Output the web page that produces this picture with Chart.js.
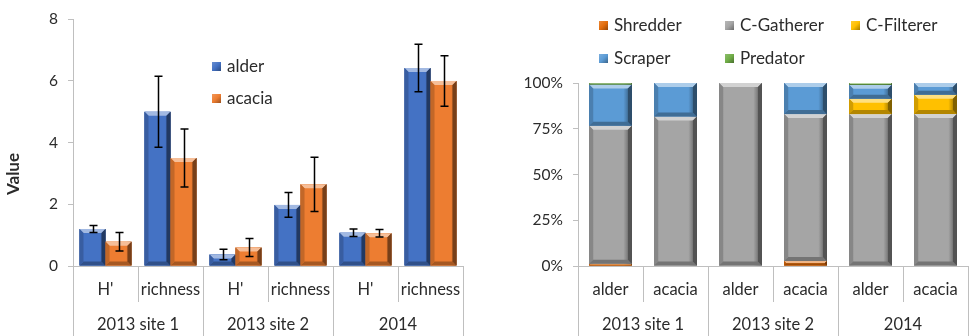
<!DOCTYPE html>
<html>
<head>
<meta charset="utf-8">
<title>Diversity and feeding groups</title>
<script src="https://cdn.jsdelivr.net/npm/chart.js@4.4.0/dist/chart.umd.min.js"></script>
<style>
  body { margin: 0; background: #fff; width: 969px; height: 336px; overflow: hidden; font-family: Lato, sans-serif; }
  .panel { position: absolute; top: 0; height: 336px; }
  #leftPanel { left: 0; width: 480px; }
  #rightPanel { left: 490px; width: 479px; }
  .legend-item { position: absolute; font-size: 17px; color: #2b2b2b; white-space: nowrap; line-height: 18px; }
  .legend-item i { display: inline-block; width: 9px; height: 9px; margin-right: 6px; vertical-align: 1px; }
</style>
</head>
<body>
<div class="panel" id="leftPanel"><canvas id="valueChart" width="480" height="336"></canvas></div>
<div class="panel" id="rightPanel"><canvas id="guildChart" width="479" height="336"></canvas></div>
<script>
// categories
const metrics = ["H'", 'richness', "H'", 'richness', "H'", 'richness'];
const trees = ['alder', 'acacia', 'alder', 'acacia', 'alder', 'acacia'];
const sites = ['2013 site 1', '2013 site 2', '2014'];

// diversity values (mean and error)
const alderMean = [1.2, 5.0, 0.37, 1.98, 1.08, 6.42];
const alderErr = [0.11, 1.15, 0.17, 0.4, 0.12, 0.77];
const acaciaMean = [0.79, 3.5, 0.6, 2.65, 1.06, 6.0];
const acaciaErr = [0.3, 0.94, 0.29, 0.88, 0.12, 0.82];
const valueTicks = [0, 2, 4, 6, 8];

// feeding group composition, percent
const shredder = [1.2, 0, 0, 2.7, 0, 0];
const gatherer = [75.5, 81.7, 100, 80.3, 83, 83.1];
const filterer = [0, 0, 0, 0, 8.4, 10.5];
const scraper = [22.5, 18.3, 0, 17, 7.6, 6.4];
const predator = [0.8, 0, 0, 0, 1, 0];
const percentTicks = [0, 25, 50, 75, 100];

const FONT = 'Lato, sans-serif';
const TEXT = '#2b2b2b';
const AXIS = '#BFBFBF';

function mix(hex, amt) {
    // amt > 0 lightens toward white, amt < 0 darkens toward black
    const n = parseInt(hex.slice(1), 16);
    let r = n >> 16, g = (n >> 8) & 255, b = n & 255;
    const t = amt > 0 ? 255 : 0, p = Math.abs(amt);
    r = Math.round(r + (t - r) * p);
    g = Math.round(g + (t - g) * p);
    b = Math.round(b + (t - b) * p);
    return `rgb(${r},${g},${b})`;
}

// Bevelled look for every bar
const bevel = {
    id: 'bevel',
    afterDatasetsDraw(chart) {
        const ctx = chart.ctx;
        chart.data.datasets.forEach((ds, di) => {
            const meta = chart.getDatasetMeta(di);
            meta.data.forEach(bar => {
                const p = bar.getProps(['x', 'y', 'base', 'width'], true);
                const l = p.x - p.width / 2, r = p.x + p.width / 2;
                const t = Math.min(p.y, p.base), b = Math.max(p.y, p.base);
                const h = b - t;
                if (h < 0.5) return;
                const col = ds.backgroundColor;
                const e = Math.min(4, h / 2, p.width / 6);
                ctx.save();
                // body gradient
                const g = ctx.createLinearGradient(l, 0, r, 0);
                g.addColorStop(0, mix(col, -0.25));
                g.addColorStop(0.12, col);
                g.addColorStop(0.8, col);
                g.addColorStop(1, mix(col, -0.5));
                ctx.fillStyle = g;
                ctx.fillRect(l, t, r - l, h);
                // top bevel
                ctx.fillStyle = mix(col, 0.5);
                ctx.beginPath();
                ctx.moveTo(l, t); ctx.lineTo(r, t); ctx.lineTo(r - e, t + e); ctx.lineTo(l + e, t + e);
                ctx.closePath(); ctx.fill();
                // bottom bevel
                ctx.fillStyle = mix(col, -0.3);
                ctx.beginPath();
                ctx.moveTo(l, b); ctx.lineTo(r, b); ctx.lineTo(r - e, b - e); ctx.lineTo(l + e, b - e);
                ctx.closePath(); ctx.fill();
                // right edge
                ctx.fillStyle = mix(col, -0.5);
                ctx.beginPath();
                ctx.moveTo(r, t); ctx.lineTo(r - e, t + e); ctx.lineTo(r - e, b - e); ctx.lineTo(r, b);
                ctx.closePath(); ctx.fill();
                // left edge
                ctx.fillStyle = mix(col, -0.18);
                ctx.beginPath();
                ctx.moveTo(l, t); ctx.lineTo(l + e, t + e); ctx.lineTo(l + e, b - e); ctx.lineTo(l, b);
                ctx.closePath(); ctx.fill();
                ctx.restore();
            });
        });
    }
};

// Error bars from the errors attached to each dataset
const errorBars = {
    id: 'errorBars',
    afterDatasetsDraw(chart) {
        const ctx = chart.ctx, y = chart.scales.y;
        ctx.save();
        ctx.strokeStyle = '#000';
        ctx.lineWidth = 1.5;
        chart.data.datasets.forEach((ds, di) => {
            if (!ds.errors) return;
            chart.getDatasetMeta(di).data.forEach((bar, i) => {
                const v = ds.data[i], err = ds.errors[i];
                const top = y.getPixelForValue(v + err), bot = y.getPixelForValue(v - err);
                const x = Math.round(bar.x) + 0.5;
                ctx.beginPath();
                ctx.moveTo(x, top); ctx.lineTo(x, bot);
                ctx.moveTo(x - 4, top); ctx.lineTo(x + 4, top);
                ctx.moveTo(x - 4, bot); ctx.lineTo(x + 4, bot);
                ctx.stroke();
            });
        });
        ctx.restore();
    }
};

// Two-row category axis (item row + site row) with separators
const categoryAxis = {
    id: 'categoryAxis',
    afterDraw(chart, args, opts) {
        const ctx = chart.ctx, x = chart.scales.x, area = chart.chartArea;
        const n = opts.labels.length, per = n / opts.groups.length;
        const step = x.getPixelForValue(1) - x.getPixelForValue(0);
        ctx.save();
        ctx.strokeStyle = AXIS;
        ctx.lineWidth = 1;
        ctx.beginPath();
        ctx.moveTo(area.left, Math.round(area.bottom) + 0.5);
        ctx.lineTo(area.right, Math.round(area.bottom) + 0.5);
        for (let i = 0; i <= n; i++) {
            const px = Math.round(x.getPixelForValue(i) - step / 2) + 0.5;
            const end = i % per === 0 ? chart.height : area.bottom + 36;
            ctx.moveTo(px, area.bottom);
            ctx.lineTo(px, end);
        }
        ctx.stroke();
        ctx.fillStyle = TEXT;
        ctx.font = '16.5px ' + FONT;
        ctx.textAlign = 'center';
        ctx.textBaseline = 'middle';
        opts.labels.forEach((lab, i) => ctx.fillText(lab, x.getPixelForValue(i), area.bottom + 24));
        opts.groups.forEach((g, k) => {
            const cx = (x.getPixelForValue(k * per) + x.getPixelForValue(k * per + per - 1)) / 2;
            ctx.fillText(g, cx, area.bottom + 59);
        });
        if (opts.yTitle) {
            ctx.font = 'bold 17px ' + FONT;
            ctx.translate(14, 174);
            ctx.rotate(-Math.PI / 2);
            ctx.fillText(opts.yTitle, 0, 0);
        }
        ctx.restore();
    }
};

function yAxis(min, max, ticks, fmt, width) {
    return {
        min: min,
        max: max,
        afterBuildTicks: s => { s.ticks = ticks.map(v => ({ value: v })); },
        afterFit: s => { s.width = width; },
        ticks: { color: TEXT, font: { family: FONT, size: 15.5 }, padding: 10, callback: fmt },
        grid: { drawOnChartArea: false, tickLength: 5, color: AXIS },
        border: { color: AXIS }
    };
}

function addLegend(panelId, items) {
    const panel = document.getElementById(panelId);
    items.forEach(it => {
        const div = document.createElement('div');
        div.className = 'legend-item';
        div.style.left = it.left + 'px';
        div.style.top = it.top + 'px';
        const sw = document.createElement('i');
        sw.style.background = `linear-gradient(135deg, ${mix(it.color, 0.2)}, ${it.color} 50%, ${mix(it.color, -0.35)})`;
        div.appendChild(sw);
        div.appendChild(document.createTextNode(it.label));
        panel.appendChild(div);
    });
}

Chart.defaults.animation = false;
Chart.defaults.font.family = FONT;

const alderColor = '#4472C4', acaciaColor = '#ED7D31';

new Chart(document.getElementById('valueChart'), {
    type: 'bar',
    data: {
        labels: metrics,
        datasets: [
            { label: 'alder', data: alderMean, errors: alderErr, backgroundColor: alderColor },
            { label: 'acacia', data: acaciaMean, errors: acaciaErr, backgroundColor: acaciaColor }
        ]
    },
    options: {
        responsive: false,
        layout: { padding: { left: 0, top: 17, right: 17, bottom: 70 } },
        datasets: { bar: { categoryPercentage: 0.8, barPercentage: 1.0 } },
        scales: {
            x: { display: false },
            y: yAxis(0, 8, valueTicks, v => v, 73)
        },
        plugins: {
            legend: { display: false },
            tooltip: { enabled: false },
            categoryAxis: { labels: metrics, groups: sites, yTitle: 'Value' }
        }
    },
    plugins: [bevel, errorBars, categoryAxis]
});

const guildColors = ['#E46C0A', '#A5A5A5', '#FFC000', '#5B9BD5', '#70AD47'];
const guildNames = ['Shredder', 'C-Gatherer', 'C-Filterer', 'Scraper', 'Predator'];
const guildData = [shredder, gatherer, filterer, scraper, predator];

new Chart(document.getElementById('guildChart'), {
    type: 'bar',
    data: {
        labels: trees,
        datasets: guildNames.map((name, i) => ({
            label: name, data: guildData[i], backgroundColor: guildColors[i]
        }))
    },
    options: {
        responsive: false,
        layout: { padding: { left: 0, top: 83, right: 1, bottom: 70 } },
        datasets: { bar: { categoryPercentage: 0.66, barPercentage: 1.0 } },
        scales: {
            x: { display: false, stacked: true },
            y: Object.assign(yAxis(0, 100, percentTicks, v => v + '%', 88), { stacked: true })
        },
        plugins: {
            legend: { display: false },
            tooltip: { enabled: false },
            categoryAxis: { labels: trees, groups: sites }
        }
    },
    plugins: [bevel, categoryAxis]
});

addLegend('leftPanel', [
    { label: 'alder', color: alderColor, left: 212, top: 57 },
    { label: 'acacia', color: acaciaColor, left: 212, top: 89 }
]);

addLegend('rightPanel', guildNames.map((name, i) => ({
    label: name,
    color: guildColors[i],
    left: 109 + (i % 3) * 126,
    top: i < 3 ? 16 : 49
})));
</script>
</body>
</html>
